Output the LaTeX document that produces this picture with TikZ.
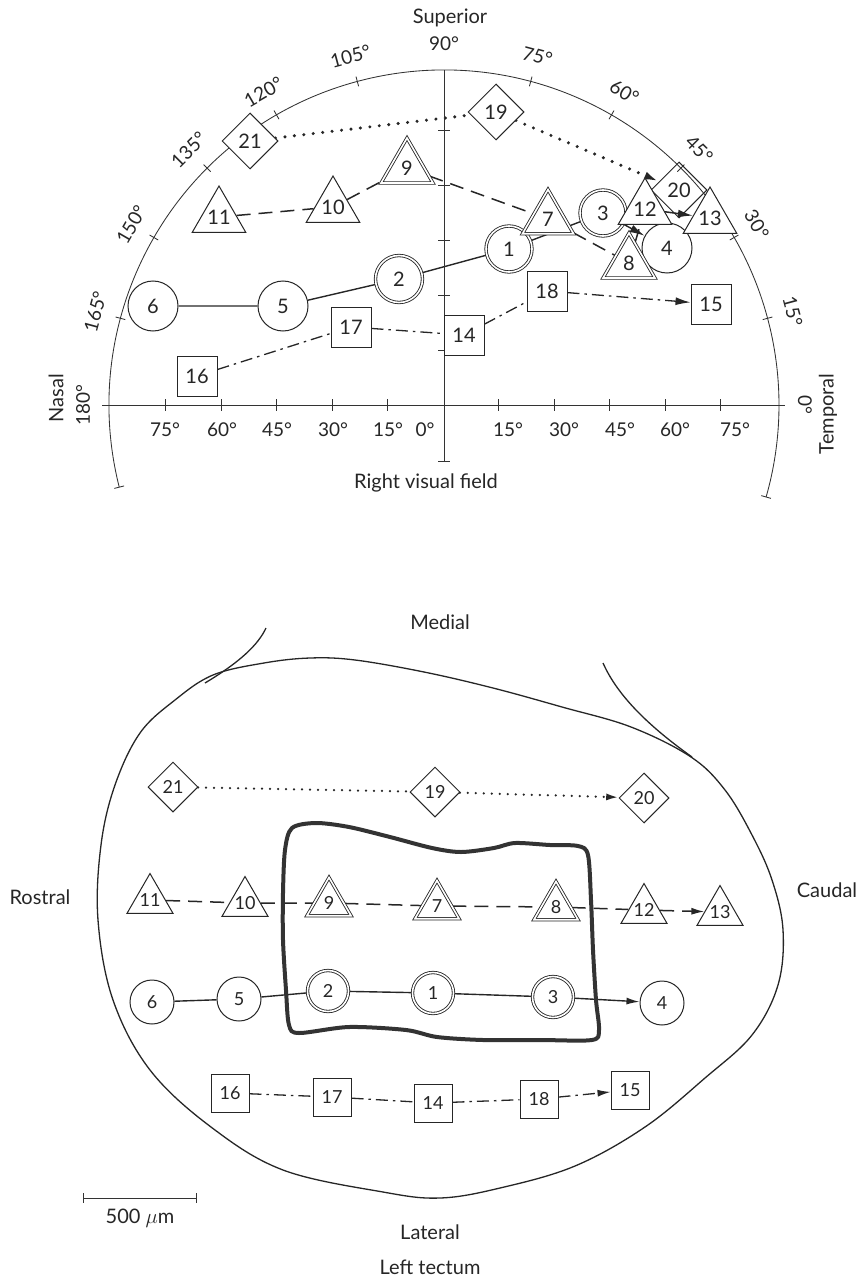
\documentclass[tikz,border=0pt]{standalone}
\usepackage{fontspec}
\setmainfont{Lato}
\usetikzlibrary{shapes.geometric,arrows.meta}
\pgfdeclarelayer{under}
\pgfdeclarelayer{edges}
\pgfsetlayers{under,edges,main}
\tikzset{
  wlab/.style={font=\fontsize{20}{22}\selectfont, text=black!85, inner sep=0pt},
  dlab/.style={font=\fontsize{19}{21}\selectfont, text=black!85, inner sep=0pt},
  numtxt/.style={font=\fontsize{20}{22}\selectfont, text=black!85},
  smalltxt/.style={font=\fontsize{18}{20}\selectfont, text=black!85},
  shapebase/.style={draw=black!85, fill=white, line width=1pt, inner sep=0pt},
  circ/.style={shapebase, circle, minimum size=#1},
  dcirc/.style={circ=#1, double=white, double distance=1.6pt, line width=0.85pt},
  tri/.style={shapebase, regular polygon, regular polygon sides=3, minimum size=#1},
  dtri/.style={tri=#1, double=white, double distance=1.6pt, line width=0.85pt},
  sq/.style={shapebase, rectangle, minimum size=#1},
  dia/.style={shapebase, diamond, aspect=1, minimum width=#1, minimum height=#1},
  axisln/.style={draw=black!80, line width=0.85pt},
  tipA/.style={-{Latex[length=15pt,width=8pt]}},
  tipB/.style={-{Latex[length=13pt,width=7pt]}},
  solidln/.style={draw=black!85, line width=1.4pt},
  dashln/.style={draw=black!85, line width=1.5pt, dash pattern=on 14pt off 8pt},
  ddln/.style={draw=black!85, line width=1.3pt, dash pattern=on 12pt off 5pt on 2.5pt off 5pt},
  dotln/.style={draw=black!85, line width=3.4pt, line cap=round, dash pattern=on 0pt off 9.5pt},
  dotlnb/.style={draw=black!85, line width=2.5pt, line cap=round, dash pattern=on 0pt off 8pt},
  outl/.style={draw=black!85, line width=1.3pt},
}
\begin{document}
\begin{tikzpicture}[x=1pt,y=1pt]
\useasboundingbox (0,0) rectangle (865,-1281);

%================ Right visual field ================
\coordinate (O) at (444,-405);
% perimeter arc with its 15 degree ticks
\draw[axisln] (O) ++(194.2:335) arc[start angle=194.2, end angle=-15.94, radius=335];
\foreach \a in {15,30,45,60,75,105,120,135,150,165}
  \draw[axisln] (O) ++(\a:330) -- ++(\a:10);
\draw[axisln] (O) ++(194.2:330) -- ++(194.2:10);
\draw[axisln] (O) ++(-15.94:330) -- ++(-15.94:10);
\foreach \a in {0,15,...,180}
  \node[dlab, rotate=\a-90] at ([shift={(\a:361)}]O) {\a°};
% horizontal meridian
\draw[axisln] (102,-405) -- (785,-405);
\foreach \k in {1,...,5}{
  \draw[axisln] (443-55.5*\k,-399) -- ++(0,-12);
  \draw[axisln] (443+55.5*\k,-399) -- ++(0,-12);
}
\foreach \x/\t in {165/75,222/60,277/45,333/30,388/15,425/0,508/15,564/30,620/45,675/60,735/75}
  \node[dlab] at (\x,-430) {\t°};
% vertical meridian
\draw[axisln] (444,-70) -- (444,-461);
\draw[axisln] (438,-461) -- (450,-461);
\foreach \y in {130,185,240,295,350}
  \draw[axisln] (438,-\y) -- (450,-\y);

\node[wlab] (sup) at (450,-18) {Superior};
\node[wlab, rotate=90] (nas) at (56,-398) {Nasal};
\node[wlab, rotate=90] (tem) at (828,-414) {Temporal};
\node[wlab] (rvf) at (426,-483) {Right visual field};

% recording sites in the field
\node[circ=50pt, numtxt] (c4) at (667,-248) {4};
\node[circ=50pt, numtxt] (c5) at (283,-306) {5};
\node[circ=50pt, numtxt] (c6) at (153,-306) {6};
\node[dcirc=46pt, numtxt] (c1) at (509,-249) {1};
\node[dcirc=47pt, numtxt] (c2) at (399,-279) {2};
\node[dcirc=46pt, numtxt] (c3) at (603,-213) {3};
\begin{pgfonlayer}{under}
\node[dia=56pt, numtxt] (d20) at (679,-190) {20};
\end{pgfonlayer}
\node[dia=56pt, numtxt] (d19) at (496,-112) {19};
\node[dia=56pt, numtxt] (d21) at (250,-141) {21};
\node[tri=62pt, label={[numtxt]center:10}] (t10) at (333,-207) {};
\node[tri=62pt, label={[numtxt]center:11}] (t11) at (219,-217) {};
\node[tri=62pt, label={[numtxt]center:12}] (t12) at (645,-209) {};
\node[tri=62pt, label={[numtxt]center:13}] (t13) at (710,-218) {};
\node[dtri=59pt, label={[numtxt]center:7}] (t7) at (548,-219) {};
\node[dtri=60pt, label={[numtxt]center:8}] (t8) at (629,-263) {};
\node[dtri=60pt, label={[numtxt]center:9}] (t9) at (407,-168) {};
\node[sq=40pt, numtxt] (s14) at (464,-335) {14};
\node[sq=40pt, numtxt] (s15) at (711,-304) {15};
\node[sq=40pt, numtxt] (s16) at (197,-376) {16};
\node[sq=40pt, numtxt] (s17) at (351,-327) {17};
\node[sq=40pt, numtxt] (s18) at (547,-291) {18};

\begin{pgfonlayer}{edges}
\draw[solidln, tipA] (c6) -- (c5) -- (c2) -- (c1) -- (c3) -- (c4);
\draw[dashln, tipA] (t11) -- (t10) -- (t9) -- (t7) -- (t8) -- (t12) -- (t13);
\draw[ddln, tipA] (s16) -- (s17) -- (s14) -- (s18) -- (s15);
\draw[dotln, tipA] (d21) -- (d19) -- (d20);
\end{pgfonlayer}

%================ Left tectum ================
\node[wlab] (med) at (440,-622) {Medial};
\node[wlab] (ros) at (40,-897) {Rostral};
\node[wlab] (cau) at (827,-890) {Caudal};
\node[wlab] (lat) at (430,-1232) {Lateral};
\node[wlab] (ltc) at (430,-1267) {Left tectum};

\draw[outl] plot[smooth cycle, tension=0.6] coordinates {
  (140,-733) (175,-700) (213,-675) (264,-663) (310,-658) (355,-660)
  (424,-672) (493,-688) (562,-707) (631,-727) (691,-757) (725,-790)
  (752,-835) (772,-880) (783,-930) (778,-985) (752,-1035) (705,-1078)
  (645,-1127) (575,-1166) (500,-1188) (440,-1198) (383,-1192) (283,-1170)
  (211,-1127) (150,-1070) (113,-1000) (98,-920) (101,-845) (115,-785)};
\draw[outl] (266,-628) .. controls (258,-645) and (240,-662) .. (205,-683);
\draw[outl] (603,-663) .. controls (615,-690) and (640,-720) .. (692,-757);

% scale bar
\coordinate (sbl) at (83,-1198);
\coordinate (sbr) at (196,-1198);
\draw[axisln] (sbl) -- (sbr);
\draw[axisln] (sbl) ++(0,5) -- ++(0,-10);
\draw[axisln] (sbr) ++(0,5) -- ++(0,-10);
\node[wlab] (sbt) at (140,-1218) {500 $\mu$m};

\node[circ=44pt, smalltxt] (bc6) at (152,-1002) {6};
\node[circ=44pt, smalltxt] (bc5) at (239,-999) {5};
\node[dcirc=41pt, smalltxt] (bc2) at (328,-991) {2};
\node[dcirc=41pt, smalltxt] (bc1) at (433,-993) {1};
\node[dcirc=41pt, smalltxt] (bc3) at (553,-997) {3};
\node[circ=44pt, smalltxt] (bc4) at (662,-1003) {4};
\node[dia=50pt, smalltxt] (bd21) at (173,-787) {21};
\node[dia=50pt, smalltxt] (bd19) at (435,-792) {19};
\node[dia=50pt, smalltxt] (bd20) at (644,-798) {20};
\node[tri=53pt, label={[smalltxt]center:11}] (bt11) at (150,-900) {};
\node[tri=53pt, label={[smalltxt]center:10}] (bt10) at (245,-903) {};
\node[dtri=51pt, label={[smalltxt]center:9}] (bt9) at (329,-903) {};
\node[dtri=51pt, label={[smalltxt]center:7}] (bt7) at (437,-906) {};
\node[dtri=51pt, label={[smalltxt]center:8}] (bt8) at (556,-907) {};
\node[tri=53pt, label={[smalltxt]center:12}] (bt12) at (644,-910) {};
\node[tri=53pt, label={[smalltxt]center:13}] (bt13) at (720,-912) {};
\node[sq=38pt, smalltxt] (bs16) at (230,-1093) {16};
\node[sq=38pt, smalltxt] (bs17) at (332,-1097) {17};
\node[sq=38pt, smalltxt] (bs14) at (433,-1103) {14};
\node[sq=38pt, smalltxt] (bs18) at (539,-1099) {18};
\node[sq=38pt, smalltxt] (bs15) at (630,-1090) {15};

\begin{pgfonlayer}{edges}
\draw[solidln, tipB] (bc6) -- (bc5) -- (bc2) -- (bc1) -- (bc3) -- (bc4);
\draw[dashln, tipB] (bt11) -- (bt10) -- (bt9) -- (bt7) -- (bt8) -- (bt12) -- (bt13);
\draw[ddln, tipB] (bs16) -- (bs17) -- (bs14) -- (bs18) -- (bs15);
\draw[dotlnb, tipB] (bd21) -- (bd19) -- (bd20);
\end{pgfonlayer}

% thick contour drawn round the central group of sites
\draw[draw=black!80, line width=4pt, line join=round] plot[smooth cycle, tension=0.5] coordinates {
  (292,-828) (316,-823) (349,-827) (390,-837) (432,-848) (461,-852)
  (494,-848) (515,-843) (550,-845) (578,-846) (588,-855) (591,-900)
  (593,-950) (596,-1000) (599,-1030) (592,-1040) (540,-1040) (483,-1040)
  (437,-1037) (406,-1030) (349,-1027) (299,-1033) (289,-1025) (286,-990)
  (283,-940) (283,-893) (285,-850)};
\end{tikzpicture}
\end{document}
